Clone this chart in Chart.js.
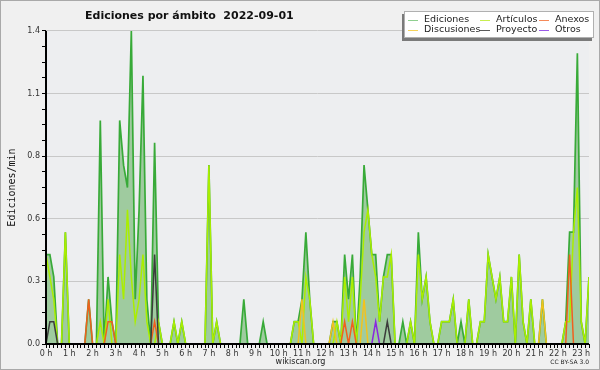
<!DOCTYPE html>
<html><head><meta charset="utf-8">
<script src="https://cdn.jsdelivr.net/npm/chart.js@4/dist/chart.umd.min.js"></script>
<style>html,body{margin:0;padding:0;background:#f0f0f0}#wrap{width:600px;height:370px;position:relative}</style>
</head><body><div id="wrap"><canvas id="c" width="600" height="370"></canvas></div>
<script>
// ---- data (10-minute steps, 00:00 .. 23:20) ----
const chartTitle = 'Ediciones por ámbito  2022-09-01';
const yAxisTitle = 'Ediciones/min';
const seriesNames = ['Ediciones','Artículos','Anexos','Discusiones','Proyecto','Otros'];
const hourLabels = ['0 h','1 h','2 h','3 h','4 h','5 h','6 h','7 h','8 h','9 h','10 h','11 h','12 h','13 h','14 h','15 h','16 h','17 h','18 h','19 h','20 h','21 h','22 h','23 h'];
const yTickLabels = ['0.0','0.3','0.6','0.8','1.1','1.4'];

const ediciones = [
 0.4,0.4,0.3,0,0,0.5,  0,0,0,0,0,0.2,  0,0,1.0,0,0.3,0.1,  0,1.0,0.8,0.7,1.4,0.2,
 0.6,1.2,0.2,0,0.9,0.1,  0,0,0,0.1,0,0.1,  0,0,0,0,0,0,  0.8,0,0.1,0,0,0,
 0,0,0,0.2,0,0,  0,0,0.1,0,0,0,  0,0,0,0,0.1,0.1,  0.2,0.5,0.2,0,0,0,
 0,0,0.1,0.1,0,0.4,  0.2,0.4,0,0.3,0.8,0.6,  0.4,0.4,0.1,0.3,0.4,0.4,  0,0,0.1,0,0.1,0,
 0.5,0.2,0.3,0.1,0,0,  0.1,0.1,0.1,0.2,0,0.1,  0,0.2,0,0,0.1,0.1,  0.4,0.3,0.2,0.3,0.1,0.1,
 0.3,0,0.4,0.1,0,0.2,  0,0,0.2,0,0,0,  0,0,0.1,0.5,0.5,1.3,  0.1,0,0.3
];
const articulos = [
 0.4,0.3,0.2,0,0,0.5,  0,0,0,0,0,0,  0,0,0.1,0,0.2,0,  0,0.4,0.2,0.6,0.3,0.1,
 0.2,0.4,0.1,0,0,0.1,  0,0,0,0.1,0,0.1,  0,0,0,0,0,0,  0.8,0,0.1,0,0,0,
 0,0,0,0,0,0,  0,0,0,0,0,0,  0,0,0,0,0.1,0.1,  0,0.3,0.2,0,0,0,
 0,0,0,0.1,0,0.3,  0.1,0.3,0,0.2,0.5,0.6,  0.4,0.3,0.1,0.3,0.3,0.4,  0,0,0,0,0.1,0,
 0.4,0.2,0.3,0.1,0,0,  0.1,0.1,0.1,0.2,0,0,  0,0.2,0,0,0.1,0.1,  0.4,0.3,0.2,0.3,0.1,0.1,
 0.3,0,0.4,0.1,0,0.2,  0,0,0,0,0,0,  0,0,0.1,0.1,0.5,0.7,  0.1,0,0.3
];
const anexos = [
 0,0,0,0,0,0,  0,0,0,0,0,0.2,  0,0,0,0,0.1,0.1,  0,0,0,0,0,0,
 0,0,0,0,0.1,0,  0,0,0,0,0,0,  0,0,0,0,0,0,  0,0,0,0,0,0,
 0,0,0,0,0,0,  0,0,0,0,0,0,  0,0,0,0,0,0,  0,0,0,0,0,0,
 0,0,0,0,0,0.1,  0,0.1,0,0,0,0,  0,0,0,0,0,0,  0,0,0,0,0,0,
 0,0,0,0,0,0,  0,0,0,0,0,0,  0,0,0,0,0,0,  0,0,0,0,0,0,
 0,0,0,0,0,0,  0,0,0,0,0,0,  0,0,0,0.4,0,0,  0,0,0
];
const discusiones = [
 0,0,0,0,0,0,  0,0,0,0,0,0,  0,0,0,0,0,0,  0,0,0,0,0,0,
 0,0,0,0,0,0,  0,0,0,0,0,0,  0,0,0,0,0,0,  0,0,0,0,0,0,
 0,0,0,0,0,0,  0,0,0,0,0,0,  0,0,0,0,0,0,  0.2,0,0,0,0,0,
 0,0,0.1,0,0,0,  0,0,0,0,0.2,0,  0,0,0,0,0,0,  0,0,0,0,0,0,
 0,0,0,0,0,0,  0,0,0,0,0,0,  0,0,0,0,0,0,  0,0,0,0,0,0,
 0,0,0,0,0,0,  0,0,0.2,0,0,0,  0,0,0,0,0,0,  0,0,0
];
const proyecto = [
 0,0.1,0.1,0,0,0,  0,0,0,0,0,0,  0,0,0,0,0,0,  0,0,0,0,0,0,
 0,0,0,0,0.4,0,  0,0,0,0,0,0,  0,0,0,0,0,0,  0,0,0,0,0,0,
 0,0,0,0,0,0,  0,0,0,0,0,0,  0,0,0,0,0,0,  0,0,0,0,0,0,
 0,0,0,0,0,0,  0,0,0,0,0,0,  0,0,0,0,0.1,0,  0,0,0,0,0,0,
 0,0,0,0,0,0,  0,0,0,0,0,0,  0,0,0,0,0,0,  0,0,0,0,0,0,
 0,0,0,0,0,0,  0,0,0,0,0,0,  0,0,0,0,0,0,  0,0,0
];
const otros = [
 0,0,0,0,0,0,  0,0,0,0,0,0,  0,0,0,0,0,0,  0,0,0,0,0,0,
 0,0,0,0,0,0,  0,0,0,0,0,0,  0,0,0,0,0,0,  0,0,0,0,0,0,
 0,0,0,0,0,0,  0,0,0,0,0,0,  0,0,0,0,0,0,  0,0,0,0,0,0,
 0,0,0,0,0,0,  0,0,0,0,0,0,  0,0.1,0,0,0,0,  0,0,0,0,0,0,
 0,0,0,0,0,0,  0,0,0,0,0,0,  0,0,0,0,0,0,  0,0,0,0,0,0,
 0,0,0,0,0,0,  0,0,0,0,0,0,  0,0,0,0,0,0,  0,0,0
];

// ---- styling ----
const colors = {
  ediciones: '#38aa38', edicionesFill: '#9fcb9f',
  articulos: '#aaee00', anexos: '#f0601e', discusiones: '#f2c21e',
  proyecto: '#3c3c3c', otros: '#8a28e0'
};
const legendColors = ['#8fcf8f','#c8ee50','#f58a5a','#f6d35a','#5a5a5a','#9a5ae8'];
const yStep = 0.07, yMax = 1.4, nPts = ediciones.length;

const pts = arr => arr.map((v, i) => ({x: i, y: v}));
function ds(label, arr, color, order, extra) {
  return Object.assign({label, data: pts(arr), borderColor: color, borderWidth: 1.5,
    pointRadius: 0, tension: 0, fill: false, order}, extra || {});
}

const framePlugin = {
  id: 'frame',
  beforeDraw(chart) {
    const {ctx, chartArea: a} = chart;
    ctx.save();
    ctx.fillStyle = '#f0f0f0';
    ctx.fillRect(0, 0, 600, 370);
    ctx.strokeStyle = '#a9a9a9'; ctx.lineWidth = 1;
    ctx.strokeRect(0.5, 0.5, 599, 369);
    ctx.fillStyle = '#edeef0';
    ctx.fillRect(a.left, a.top, a.right - a.left, a.bottom - a.top);
    ctx.restore();
  },
  afterDatasetsDraw(chart) {
    const {ctx, chartArea: a} = chart;
    ctx.save();
    ctx.fillStyle = '#000';
    ctx.fillRect(a.left - 1, a.top, 2, a.bottom - a.top + 1);
    ctx.fillRect(a.left - 1, a.bottom - 1, a.right - a.left + 1, 2);
    ctx.restore();
  },
  afterDraw(chart) {
    const {ctx, chartArea: a} = chart;
    ctx.save();
    // title
    ctx.fillStyle = '#111';
    ctx.font = 'bold 11px "DejaVu Sans"';
    ctx.textBaseline = 'alphabetic'; ctx.textAlign = 'left';
    ctx.fillText(chartTitle, 85, 19);
    // y title
    ctx.save();
    ctx.translate(12, (a.top + a.bottom) / 2);
    ctx.rotate(-Math.PI / 2);
    ctx.textAlign = 'center'; ctx.textBaseline = 'middle';
    ctx.font = '10px "DejaVu Sans Mono"'; ctx.fillStyle = '#111';
    ctx.fillText(yAxisTitle, 0, 0);
    ctx.restore();
    // footer
    ctx.fillStyle = '#222'; ctx.font = '8px "DejaVu Sans"'; ctx.textAlign = 'center';
    ctx.fillText('wikiscan.org', 300.5, 364);
    ctx.font = '6px "DejaVu Sans"'; ctx.textAlign = 'right';
    ctx.fillText('CC BY-SA 3.0', 589, 364);
    // legend
    const bx = 404, by = 11, bw = 190, bh = 27;
    ctx.fillStyle = '#7a7a7a';
    ctx.fillRect(bx - 2, by + 3, bw, bh);
    ctx.fillStyle = '#ffffff';
    ctx.fillRect(bx, by, bw, bh);
    ctx.strokeStyle = '#b0b0b0'; ctx.lineWidth = 1;
    ctx.strokeRect(bx + 0.5, by + 0.5, bw - 1, bh - 1);
    const cols = [408, 480, 539], rows = [19.5, 29.5];
    const layout = [[0,0],[1,0],[2,0],[0,1],[1,1],[2,1]];
    ctx.font = '9.5px "DejaVu Sans"'; ctx.textAlign = 'left'; ctx.textBaseline = 'middle';
    seriesNames.forEach((name, k) => {
      const [c, r] = layout[k];
      const x = cols[c], y = rows[r];
      ctx.strokeStyle = legendColors[k]; ctx.lineWidth = 1;
      ctx.beginPath(); ctx.moveTo(x, Math.round(y) + 0.5); ctx.lineTo(x + 10, Math.round(y) + 0.5); ctx.stroke();
      ctx.fillStyle = '#222';
      ctx.fillText(name, x + 16, y);
    });
    ctx.restore();
  }
};

new Chart(document.getElementById('c'), {
  type: 'line',
  data: {
    datasets: [
      ds(seriesNames[0], ediciones, colors.ediciones, 10, {fill: 'origin', backgroundColor: colors.edicionesFill, borderWidth: 1.7}),
      ds(seriesNames[1], articulos, colors.articulos, 9),
      ds(seriesNames[3], discusiones, colors.discusiones, 8),
      ds(seriesNames[2], anexos, colors.anexos, 7),
      ds(seriesNames[4], proyecto, colors.proyecto, 6),
      ds(seriesNames[5], otros, colors.otros, 5)
    ]
  },
  options: {
    responsive: false, animation: false, devicePixelRatio: 1,
    layout: {padding: {top: 31, right: 11, left: 0, bottom: 0}},
    plugins: {legend: {display: false}, title: {display: false}, tooltip: {enabled: false}},
    scales: {
      x: {
        type: 'linear', min: 0, max: nPts - 1,
        afterBuildTicks: s => { s.ticks = Array.from({length: nPts}, (_, i) => ({value: i})); },
        afterFit: s => { s.height = 26; },
        grid: {drawOnChartArea: false, drawTicks: true, tickLength: 4, tickColor: '#000', tickWidth: 1},
        border: {display: false},
        ticks: {autoSkip: false, maxRotation: 0, minRotation: 0, padding: 1,
          color: '#333', font: {family: 'DejaVu Sans', size: 8},
          callback: (v) => (v % 6 === 0 ? hourLabels[v / 6] : '')}
      },
      y: {
        min: 0, max: yMax,
        afterBuildTicks: s => { s.ticks = Array.from({length: Math.round(yMax / yStep) + 1}, (_, i) => ({value: i * yStep})); },
        afterFit: s => { s.width = 46; },
        grid: {drawTicks: true, tickLength: 4, tickColor: '#000',
          color: c => (c.index % 4 === 0 && c.index > 0 ? '#c8c8c8' : 'rgba(0,0,0,0)')},
        border: {display: false},
        ticks: {autoSkip: false, padding: 2, color: '#333', font: {family: 'DejaVu Sans', size: 8},
          callback: (v, i) => (i % 4 === 0 ? yTickLabels[i / 4] : '')}
      }
    }
  },
  plugins: [framePlugin]
});
</script></body></html>
